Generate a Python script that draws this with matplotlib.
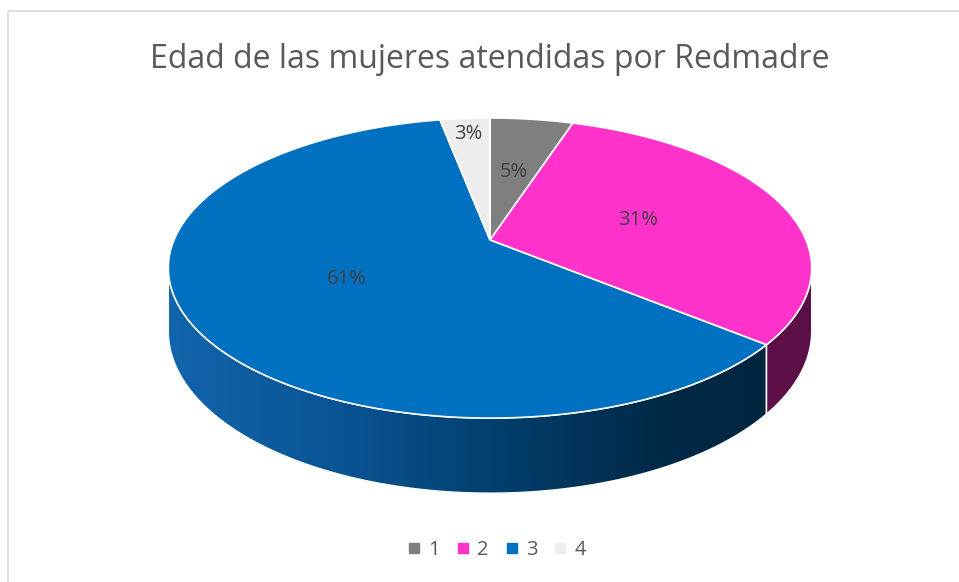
import numpy as np
import matplotlib.pyplot as plt
from matplotlib.patches import Polygon, Rectangle
from matplotlib.lines import Line2D
from matplotlib.colors import LinearSegmentedColormap

plt.rcParams['font.family'] = ['Open Sans', 'DejaVu Sans']

titulo = "Edad de las mujeres atendidas por Redmadre"
categorias = ["1", "2", "3", "4"]
porcentajes = [5, 31, 61, 3]
colores = ["#7F7F7F", "#FF33CC", "#0070C0", "#EDEDED"]
# costado del pastel: degradado de izquierda a derecha
colores_lado = [
    ["#707070", "#5A5A5A", "#3C3C3C"],
    ["#7A1A62", "#66124F", "#5C0E47"],
    ["#1265AC", "#0A5596", "#03406F", "#002A48", "#00233C"],
    ["#CFCFCF", "#B5B5B5", "#9A9A9A"],
]
radio_etiqueta = [0.52, 0.5, 0.5, 0.85]

W, H = 959, 582
fig = plt.figure(figsize=(W / 100, H / 100), dpi=100)
ax = fig.add_axes([0, 0, 1, 1])
ax.set_xlim(0, W)
ax.set_ylim(H, 0)
ax.axis("off")

# geometria del pastel 3D (perspectiva sencilla)
cx, cy = 490, 240
b, a, k = 316, 144.8, 0.187
prof = 61


def proj(theta, r=1.0, z=0.0):
    u = r * np.sin(theta)
    v = r * np.cos(theta)
    s = 1 + k * v
    return cx + b * u / s, cy - a * v / s + z / s


total = sum(porcentajes)
angulos = np.concatenate([[0], np.cumsum(porcentajes) / total * 2 * np.pi])

# parte visible del costado
vis0 = np.arccos(-k)
vis1 = 2 * np.pi - vis0
x_min, y_min = proj(-vis0)
x_max, _ = proj(vis0)

# costados
for i in range(len(porcentajes)):
    t0, t1 = max(angulos[i], vis0), min(angulos[i + 1], vis1)
    if t1 <= t0:
        continue
    t = np.linspace(t0, t1, 120)
    xs, ys = proj(t)
    xb, yb = proj(t, z=prof)
    pts = np.column_stack([np.concatenate([xs, xb[::-1]]),
                           np.concatenate([ys, yb[::-1]])])
    poly = Polygon(pts, closed=True, facecolor="none", edgecolor="white",
                   linewidth=1.0, zorder=2)
    ax.add_patch(poly)
    cmap = LinearSegmentedColormap.from_list("lado%d" % i, colores_lado[i])
    grad = np.linspace(0, 1, 256).reshape(1, -1)
    im = ax.imshow(grad, cmap=cmap, extent=(x_min - 2, x_max + 2, 520, 100),
                   aspect="auto", zorder=1, interpolation="bilinear")
    im.set_clip_path(poly)

# caras superiores
for i in range(len(porcentajes)):
    t = np.linspace(angulos[i], angulos[i + 1], 150)
    xs, ys = proj(t)
    pts = np.column_stack([np.concatenate([[cx], xs]), np.concatenate([[cy], ys])])
    ax.add_patch(Polygon(pts, closed=True, facecolor=colores[i], edgecolor="white",
                         linewidth=1.2, zorder=3))

# etiquetas de porcentaje
for i, p in enumerate(porcentajes):
    mid = (angulos[i] + angulos[i + 1]) / 2
    x, y = proj(mid, r=radio_etiqueta[i])
    ax.text(x, y, "%d%%" % p, ha="center", va="center", fontsize=14.5,
            color="#404040", zorder=4)

# titulo
ax.text(490, 59, titulo, ha="center", va="center", fontsize=23, color="#595959")

# marco
ax.add_patch(Rectangle((8, 11), 980, 600, facecolor="none", edgecolor="#D9D9D9",
                       linewidth=1.2, zorder=0))

# leyenda
handles = [Line2D([], [], marker="s", color=c, linestyle="None", markersize=7)
           for c in colores]
leg = ax.legend(handles, categorias, loc="center", bbox_to_anchor=(496 / W, 1 - 550 / H),
                ncol=4, frameon=False, fontsize=14.5, handlelength=0.8,
                handletextpad=0.3, columnspacing=0.75)
for txt in leg.get_texts():
    txt.set_color("#595959")

fig.savefig("out.png", dpi=100)
